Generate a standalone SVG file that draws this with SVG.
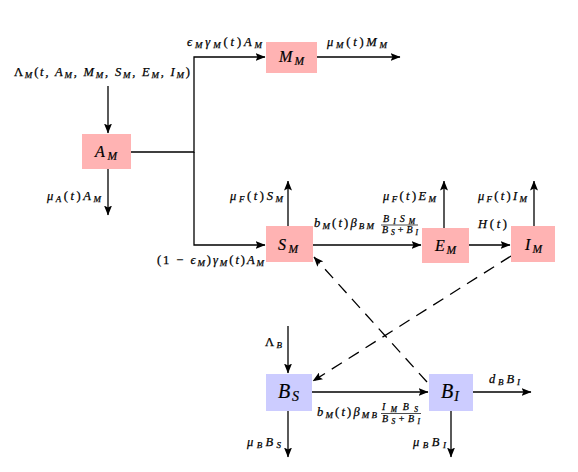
<svg xmlns="http://www.w3.org/2000/svg" width="578" height="472" viewBox="0 0 578 472">
<defs>
<marker id="ah" markerUnits="userSpaceOnUse" markerWidth="10" markerHeight="8" viewBox="0 0 10 8" refX="9.5" refY="4" orient="auto">
<path d="M0,0 L10,4 L0,8 L2,4 Z" fill="#000"/>
</marker>
<style>
.ln{fill:none;stroke:#000;stroke-width:1.3}
.ar{marker-end:url(#ah)}
.ds{stroke-dasharray:12 8}
.pk{fill:#ffb3b3}
.bl{fill:#ccccff}
.lb{font-family:"Liberation Serif","DejaVu Serif",serif;font-style:italic;font-size:12.5px;fill:#000;stroke:#000;stroke-width:0.25}
.nm{font-family:"Liberation Serif","DejaVu Serif",serif;font-style:italic;font-size:16px;fill:#000;stroke:#000;stroke-width:0.2}
.nb{font-size:20px}
.s{font-size:9px}
.f{font-size:10px}
.fs{font-size:7.5px}
.ns{font-size:11.5px}
.nbs{font-size:14px}
.up{font-style:normal}
.fb{stroke:#000;stroke-width:0.7}
</style>
</defs>
<g id="connectors">
<path class="ln ar" d="M108,86 V133"/>
<path class="ln ar" d="M108,169 V215"/>
<path class="ln ar" d="M131,152 H194 V57 H265"/>
<path class="ln ar" d="M194,152 V245 H265"/>
<path class="ln ar" d="M317,57 H400"/>
<path class="ln ar" d="M288,226 V181"/>
<path class="ln ar" d="M444,228 V181"/>
<path class="ln ar" d="M534,226 V181"/>
<path class="ln ar" d="M313,245 H421"/>
<path class="ln ar" d="M469,245 H510"/>
<path class="ln ar ds" d="M427,382 L314,257"/>
<path class="ln ar ds" d="M511,256 L313,381"/>
<path class="ln ar" d="M288,326 V373"/>
<path class="ln ar" d="M288,411 V457"/>
<path class="ln ar" d="M312,392 H428"/>
<path class="ln ar" d="M473,392 H531"/>
<path class="ln ar" d="M451,411 V457"/>
</g>
<g id="labels">
<text class="lb" x="187" y="46" textLength="75" lengthAdjust="spacing">ϵ<tspan class="s" dy="2">M</tspan><tspan dy="-2">γ</tspan><tspan class="s" dy="2">M</tspan><tspan class="up" dy="-2">(</tspan>t<tspan class="up">)</tspan>A<tspan class="s" dy="2">M</tspan></text>
<text class="lb" x="14" y="76" textLength="176" lengthAdjust="spacing"><tspan class="up">Λ</tspan><tspan class="s" dy="2">M</tspan><tspan class="up" dy="-2">(</tspan>t, A<tspan class="s" dy="2">M</tspan><tspan dy="-2">, M</tspan><tspan class="s" dy="2">M</tspan><tspan dy="-2">, S</tspan><tspan class="s" dy="2">M</tspan><tspan dy="-2">, E</tspan><tspan class="s" dy="2">M</tspan><tspan dy="-2">, I</tspan><tspan class="s" dy="2">M</tspan><tspan class="up" dy="-2">)</tspan></text>
<text class="lb" x="327" y="46" textLength="60" lengthAdjust="spacing">μ<tspan class="s" dy="2">M</tspan><tspan class="up" dy="-2">(</tspan>t<tspan class="up">)</tspan>M<tspan class="s" dy="2">M</tspan></text>
<text class="lb" x="47" y="200" textLength="54" lengthAdjust="spacing">μ<tspan class="s" dy="2">A</tspan><tspan class="up" dy="-2">(</tspan>t<tspan class="up">)</tspan>A<tspan class="s" dy="2">M</tspan></text>
<text class="lb" x="230" y="200" textLength="53" lengthAdjust="spacing">μ<tspan class="s" dy="2">F</tspan><tspan class="up" dy="-2">(</tspan>t<tspan class="up">)</tspan>S<tspan class="s" dy="2">M</tspan></text>
<text class="lb" x="383" y="200" textLength="53" lengthAdjust="spacing">μ<tspan class="s" dy="2">F</tspan><tspan class="up" dy="-2">(</tspan>t<tspan class="up">)</tspan>E<tspan class="s" dy="2">M</tspan></text>
<text class="lb" x="478" y="200" textLength="49" lengthAdjust="spacing">μ<tspan class="s" dy="2">F</tspan><tspan class="up" dy="-2">(</tspan>t<tspan class="up">)</tspan>I<tspan class="s" dy="2">M</tspan></text>
<text class="lb" x="314" y="227" textLength="60" lengthAdjust="spacing">b<tspan class="s" dy="2">M</tspan><tspan class="up" dy="-2">(</tspan>t<tspan class="up">)</tspan>β<tspan class="s" dy="2">BM</tspan></text>
<text class="lb f" x="383" y="222" textLength="32" lengthAdjust="spacing">B<tspan class="fs" dy="1.5">I</tspan><tspan dy="-1.5">S</tspan><tspan class="fs" dy="1.5">M</tspan></text>
<line class="fb" x1="381" y1="225" x2="418" y2="225"/>
<text class="lb f" x="382" y="233" textLength="36" lengthAdjust="spacing">B<tspan class="fs" dy="1.5">S</tspan><tspan class="up" dy="-1.5">+</tspan>B<tspan class="fs" dy="1.5">I</tspan></text>
<text class="lb" x="478" y="228" font-size="16" textLength="29" lengthAdjust="spacing">H<tspan class="up">(</tspan>t<tspan class="up">)</tspan></text>
<text class="lb" x="157" y="264" textLength="107" lengthAdjust="spacing"><tspan class="up">(1 − </tspan>ϵ<tspan class="s" dy="2">M</tspan><tspan class="up" dy="-2">)</tspan>γ<tspan class="s" dy="2">M</tspan><tspan class="up" dy="-2">(</tspan>t<tspan class="up">)</tspan>A<tspan class="s" dy="2">M</tspan></text>
<text class="lb" x="265" y="346" textLength="17" lengthAdjust="spacing"><tspan class="up">Λ</tspan><tspan class="s" dy="2">B</tspan></text>
<text class="lb" x="247" y="446" textLength="34" lengthAdjust="spacing">μ<tspan class="s" dy="2">B</tspan><tspan dy="-2">B</tspan><tspan class="s" dy="2">S</tspan></text>
<text class="lb" x="413" y="446" textLength="33" lengthAdjust="spacing">μ<tspan class="s" dy="2">B</tspan><tspan dy="-2">B</tspan><tspan class="s" dy="2">I</tspan></text>
<text class="lb" x="489" y="383" textLength="31" lengthAdjust="spacing">d<tspan class="s" dy="2">B</tspan><tspan dy="-2">B</tspan><tspan class="s" dy="2">I</tspan></text>
<text class="lb" x="317" y="416" textLength="60" lengthAdjust="spacing">b<tspan class="s" dy="2">M</tspan><tspan class="up" dy="-2">(</tspan>t<tspan class="up">)</tspan>β<tspan class="s" dy="2">MB</tspan></text>
<text class="lb f" x="382" y="410" textLength="36" lengthAdjust="spacing">I<tspan class="fs" dy="1.5">M</tspan><tspan dy="-1.5">B</tspan><tspan class="fs" dy="1.5">S</tspan></text>
<line class="fb" x1="381" y1="413.5" x2="421" y2="413.5"/>
<text class="lb f" x="382" y="422" textLength="38" lengthAdjust="spacing">B<tspan class="fs" dy="1.5">S</tspan><tspan class="up" dy="-1.5">+</tspan>B<tspan class="fs" dy="1.5">I</tspan></text>
</g>
<g id="A_M"><rect class="pk" x="82" y="134" width="49" height="35"/><text class="nm" x="95" y="157" textLength="22" lengthAdjust="spacing">A<tspan class="ns" dy="2.5">M</tspan></text></g>
<g id="M_M"><rect class="pk" x="266" y="42" width="51" height="31"/><text class="nm" x="279" y="62" textLength="25" lengthAdjust="spacing">M<tspan class="ns" dy="2.5">M</tspan></text></g>
<g id="S_M"><rect class="pk" x="266" y="226" width="47" height="36"/><text class="nm" x="278" y="250" textLength="20" lengthAdjust="spacing">S<tspan class="ns" dy="2.5">M</tspan></text></g>
<g id="E_M"><rect class="pk" x="422" y="228" width="47" height="35"/><text class="nm" x="435" y="251" textLength="21" lengthAdjust="spacing">E<tspan class="ns" dy="2.5">M</tspan></text></g>
<g id="I_M"><rect class="pk" x="511" y="226" width="44" height="36"/><text class="nm" x="525" y="250" textLength="17" lengthAdjust="spacing">I<tspan class="ns" dy="2.5">M</tspan></text></g>
<g id="B_S"><rect class="bl" x="266" y="374" width="46" height="37"/><text class="nm nb" x="278" y="398" textLength="21" lengthAdjust="spacing">B<tspan class="nbs" dy="3">S</tspan></text></g>
<g id="B_I"><rect class="bl" x="429" y="374" width="44" height="37"/><text class="nm nb" x="441" y="398" textLength="18" lengthAdjust="spacing">B<tspan class="nbs" dy="3">I</tspan></text></g>
</svg>
